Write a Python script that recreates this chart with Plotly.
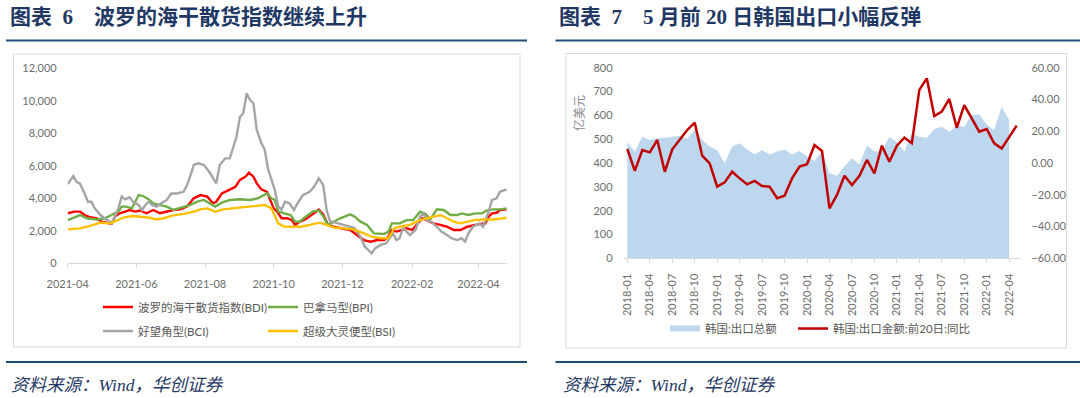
import pandas as pd
import plotly.graph_objects as go

W, H = 1080, 398

# ---------------- Left chart: Baltic dry indices (day offsets from 2021-04-01) ----------------
base_date = "2021-04-01"
axis_end_day = 390
left_ticks = ["2021-04-01", "2021-06-01", "2021-08-01", "2021-10-01", "2021-12-01", "2022-02-01", "2022-04-01"]

bdi_days = [0, 6, 11, 15, 20, 26, 30, 35, 39, 42, 46, 51, 55, 60, 64, 70, 76, 82, 88, 94,
            100, 106, 112, 118, 124, 129, 132, 137, 143, 149, 153, 158, 161, 165, 168, 172, 177, 180, 183, 186,
            190, 195, 199, 202, 206, 212, 218, 223, 227, 231, 236, 245, 251, 257, 263, 269, 275, 281, 285, 288,
            292, 297, 301, 306, 310, 315, 319, 325, 331, 337, 343, 349, 355, 361, 366, 371, 374, 377, 381, 384, 390]
bdi_vals = [3080, 3180, 3180, 2970, 2830, 2770, 2560, 2500, 2420, 2870, 3080, 3180, 3280, 3180, 3250, 3080, 3280, 3080, 3180, 3280,
            3320, 3490, 4000, 4200, 4100, 3690, 3790, 4300, 4500, 4700, 5130, 5330, 5580, 5330, 4920, 4550, 4400, 3900, 3380, 3180,
            2770, 2770, 2670, 2360, 2550, 2750, 3070, 3300, 3000, 2400, 2250, 2150, 2050, 1740, 1430, 1330, 1430, 1430, 1640, 2050,
            1950, 2050, 2150, 2050, 2360, 2770, 2660, 2460, 2360, 2250, 2050, 2050, 2250, 2360, 2420, 2460, 2870, 3070, 3110, 3280, 3320]

bci_days = [0, 5, 8, 11, 15, 18, 21, 24, 29, 33, 36, 39, 42, 45, 48, 51, 55, 58, 63, 66,
            69, 72, 75, 79, 83, 88, 92, 97, 103, 106, 109, 112, 116, 121, 126, 129, 132, 135, 140, 144,
            147, 150, 153, 156, 159, 162, 165, 168, 172, 175, 178, 181, 184, 187, 190, 193, 197, 201, 205, 209,
            215, 219, 223, 227, 230, 233, 239, 245, 251, 255, 260, 264, 267, 270, 273, 278, 283, 286, 289, 292,
            295, 298, 301, 304, 309, 313, 316, 319, 323, 328, 332, 337, 341, 346, 350, 353, 356, 360, 366, 369,
            374, 377, 381, 384, 388, 390]
bci_vals = [4880, 5370, 5000, 4900, 4300, 3790, 3790, 3380, 2970, 2770, 2660, 2460, 2870, 3380, 4100, 3930, 4060, 3790, 3590, 3280,
            3590, 3790, 3590, 3490, 3690, 3900, 4300, 4300, 4400, 4800, 5400, 6050, 6150, 6050, 5600, 5300, 4920, 6050, 6460, 6460,
            7080, 7800, 9000, 9230, 10460, 10050, 9850, 8200, 7400, 7000, 5800, 5200, 4500, 3500, 3300, 3790, 3690, 3280, 3790, 4200,
            4400, 4720, 5230, 4820, 3280, 2600, 2460, 2360, 2250, 2150, 1640, 1020, 820, 610, 920, 1130, 1230, 1540, 1840, 1430,
            1540, 2250, 1950, 1740, 2050, 2870, 3070, 2660, 2560, 2250, 1950, 1740, 1540, 1430, 1540, 1330, 1840, 2250, 2460, 2250,
            3180, 3900, 4000, 4400, 4510, 4510]

bpi_days = [0, 6, 11, 17, 26, 33, 39, 45, 48, 52, 57, 60, 63, 67, 72, 76, 82, 88, 94, 103,
            109, 115, 121, 126, 131, 137, 144, 153, 162, 169, 177, 181, 184, 187, 192, 198, 202, 206, 212, 218,
            223, 227, 231, 235, 242, 251, 255, 260, 266, 272, 281, 285, 288, 295, 301, 307, 313, 318, 322, 328,
            334, 340, 346, 350, 356, 362, 368, 372, 378, 384, 390]
bpi_vals = [2660, 2830, 2970, 2770, 2700, 2770, 2970, 3180, 3490, 3490, 3380, 3790, 4200, 4140, 3930, 3690, 3590, 3490, 3280, 3490,
            3590, 3790, 3900, 3690, 3490, 3730, 3900, 3940, 3900, 4000, 4300, 4000, 3900, 3180, 3080, 2970, 2560, 2560, 2900, 3200,
            3250, 2900, 2350, 2500, 2770, 3010, 2870, 2560, 2360, 1840, 1800, 1950, 2460, 2460, 2660, 2660, 3180, 3030, 2700, 3320,
            3280, 2970, 2970, 3070, 2970, 3070, 3070, 3240, 3320, 3320, 3380]

bsi_days = [0, 11, 20, 29, 38, 44, 50, 58, 64, 73, 79, 85, 94, 103, 112, 118, 124, 131, 138, 147,
            159, 168, 175, 181, 184, 187, 192, 200, 207, 215, 224, 230, 236, 245, 254, 263, 270, 278, 285, 290,
            295, 304, 313, 319, 325, 331, 337, 343, 349, 355, 361, 370, 378, 387, 390]
bsi_vals = [2090, 2150, 2300, 2500, 2460, 2660, 2830, 2910, 2870, 2800, 2700, 2770, 2950, 3040, 3180, 3320, 3380, 3180, 3320, 3380,
            3450, 3530, 3590, 3380, 2970, 2460, 2260, 2260, 2250, 2360, 2500, 2360, 2210, 2150, 2090, 1840, 1640, 1540, 1540, 2150,
            2250, 2360, 2660, 2770, 2870, 2970, 2770, 2560, 2460, 2560, 2660, 2700, 2700, 2770, 2810]

left_names = ["波罗的海干散货指数(BDI)", "巴拿马型(BPI)", "好望角型(BCI)", "超级大灵便型(BSI)"]
left_colors = ["#FF0000", "#70AD47", "#A5A5A5", "#FFC000"]

# ---------------- Right chart: Korea exports ----------------
months = [f"{y}-{m:02d}" for y in range(2018, 2023) for m in range(1, 13)][:53]   # 2018-01 .. 2022-05
export_total = [487, 448, 510, 497, 503, 506, 510, 513, 503, 538, 497, 469, 455, 399, 469, 483, 457, 436, 455, 436,
                448, 457, 436, 450, 427, 408, 448, 357, 347, 385, 420, 394, 473, 448, 448, 510, 487, 448, 524, 510,
                506, 543, 552, 531, 555, 552, 601, 604, 562, 538, 636, 580]          # 2018-01 .. 2022-04
export_yoy = [8.8, -5.0, 8.2, 6.7, 14.5, -5.5, 8.6, 14.5, 20.8, 25.4, 4.6, -0.2, -14.9, -12.2, -5.5, -9.7, -13.4, -11.3, -14.5, -14.9,
              -22.2, -20.6, -9.7, -2.3, -0.8, 11.3, 7.6, -28.5, -20.1, -8.0, -13.9, -8.0, 1.9, -6.5, 10.9, 0.8, 10.9, 16.0, 12.4, 46.0,
              53.3, 29.6, 32.3, 40.3, 22.2, 36.5, 28.1, 19.7, 21.4, 12.4, 9.2, 16.6, 23.5]   # 2018-01 .. 2022-05
right_tick_labels = months[0:52:3]
right_names = ["韩国:出口总额", "韩国:出口金额:前20日:同比"]

# ---------------- helpers ----------------
def px(x):
    return x / W

def py(y):
    return 1 - y / H

def to_dates(days):
    b = pd.Timestamp(base_date)
    return [(b + pd.Timedelta(days=d)).strftime("%Y-%m-%d") for d in days]

TICK_FONT = dict(family="Lato, 'Noto Sans CJK SC', sans-serif", size=11, color="#6e6e6e")
NAVY = "#1F3864"

fig = go.Figure()

left_series = [(bdi_days, bdi_vals), (bpi_days, bpi_vals), (bci_days, bci_vals), (bsi_days, bsi_vals)]
left_legends = ["legend", "legend", "legend2", "legend2"]
left_lw = [None, 150, None, 150]
for (d, v), name, col, lg, lw in zip(left_series, left_names, left_colors, left_legends, left_lw):
    fig.add_trace(go.Scatter(x=to_dates(d), y=v, name=name, mode="lines",
                             line=dict(color=col, width=2.4),
                             xaxis="x", yaxis="y", legend=lg, legendwidth=lw))

fig.add_trace(go.Scatter(x=months[:len(export_total)], y=export_total, name=right_names[0],
                         mode="none", fill="tozeroy", fillcolor="#BDD7EE",
                         xaxis="x2", yaxis="y2", legend="legend3"))
fig.add_trace(go.Scatter(x=months, y=export_yoy, name=right_names[1], mode="lines",
                         line=dict(color="#C00000", width=2.5),
                         xaxis="x2", yaxis="y3", legend="legend3", legendwidth=170))

end_date = (pd.Timestamp(base_date) + pd.Timedelta(days=axis_end_day)).strftime("%Y-%m-%d")

shapes = []
# title rules and bottom rules
for x0, x1 in [(6, 527), (555.5, 1080)]:
    shapes.append(dict(type="line", xref="paper", yref="paper", x0=px(x0), x1=px(x1), y0=py(40.5), y1=py(40.5),
                       line=dict(color="#1F4E79", width=2)))
    shapes.append(dict(type="line", xref="paper", yref="paper", x0=px(x0), x1=px(x1), y0=py(362), y1=py(362),
                       line=dict(color="#1F4E79", width=2)))
# chart frames
for x0, y0, x1, y1 in [(13.5, 54, 520, 347), (566, 53.5, 1066.5, 348)]:
    shapes.append(dict(type="rect", xref="paper", yref="paper", x0=px(x0), x1=px(x1), y0=py(y1), y1=py(y0),
                       line=dict(color="#D9D9D9", width=1), fillcolor="rgba(0,0,0,0)", layer="below"))

serif = "font-family:'Liberation Serif'"
sp = "\u2005"
annotations = [
    dict(text=f"<b>图表\u2002<span style=\"{serif}\">6</span>\u3000波罗的海干散货指数继续上升</b>",
         x=px(8), y=py(15), xanchor="left", yanchor="middle"),
    dict(text=(f"<b>图表\u2002<span style=\"{serif}\">7</span>\u3000<span style=\"{serif}\">5</span>{sp}月前{sp}"
               f"<span style=\"{serif}\">20</span>{sp}日韩国出口小幅反弹</b>"),
         x=px(557), y=py(15), xanchor="left", yanchor="middle"),
]
for a in annotations:
    a.update(xref="paper", yref="paper", showarrow=False, align="left",
             font=dict(family="'Noto Sans CJK SC', sans-serif", size=21, color=NAVY))
for xs in [8.5, 560.5]:
    annotations.append(dict(text=f"<i>资料来源：<span style=\"{serif}\">Wind</span>，华创证券</i>",
                            x=px(xs), y=py(383), xref="paper", yref="paper", xanchor="left", yanchor="middle",
                            align="left", showarrow=False,
                            font=dict(family="'Noto Sans CJK SC', sans-serif", size=17.5, color=NAVY)))
annotations.append(dict(text="亿美元", x=px(578), y=py(93), xref="paper", yref="paper", textangle=-90,
                        showarrow=False, font=dict(family="'Noto Sans CJK SC', sans-serif", size=12, color="#8c8c8c")))

legend_common = dict(orientation="h", xanchor="left", yanchor="middle", bgcolor="rgba(0,0,0,0)",
                     font=dict(family="Lato, 'Noto Sans CJK SC', sans-serif", size=11.5, color="#595959"),
                     entrywidthmode="pixels", itemwidth=30, tracegroupgap=0)

fig.update_layout(
    width=W, height=H, margin=dict(l=0, r=0, t=0, b=0, autoexpand=False),
    paper_bgcolor="white", plot_bgcolor="white",
    font=TICK_FONT,
    showlegend=True,
    xaxis=dict(domain=[px(67.7), px(506.7)], type="date", range=[base_date, end_date],
               tickvals=left_ticks, tickformat="%Y-%m", showgrid=False, zeroline=False, automargin=False,
               showline=True, linecolor="#D9D9D9", linewidth=1, ticks="outside", ticklen=4, tickcolor="#D9D9D9",
               ticklabelstandoff=6, tickfont=TICK_FONT, anchor="y"),
    yaxis=dict(domain=[py(263.3), py(68.3)], range=[0, 12000], dtick=2000, tickformat=",", automargin=False,
               showgrid=False, zeroline=False, showline=False, ticklabelstandoff=10, tickfont=TICK_FONT, anchor="x"),
    xaxis2=dict(domain=[px(623.6), px(1020.4)], type="category", categoryorder="array", categoryarray=months,
                range=[-0.5, len(months) - 0.5], tickvals=right_tick_labels, ticktext=right_tick_labels,
                tickangle=-90, showgrid=False, zeroline=False, showline=True, linecolor="#D9D9D9", linewidth=1,
                ticks="outside", ticklen=4, tickcolor="#D9D9D9", ticklabelstandoff=6, tickfont=TICK_FONT,
                anchor="y2", automargin=False),
    yaxis2=dict(domain=[py(258.3), py(67.7)], range=[0, 800], dtick=100, showgrid=False, zeroline=False,
                showline=False, ticklabelstandoff=10, tickfont=TICK_FONT, anchor="x2", automargin=False),
    yaxis3=dict(domain=[py(258.3), py(67.7)], range=[-60, 60], dtick=20, tickformat=".2f", overlaying="y2",
                side="right", showgrid=False, zeroline=False, showline=False, ticklabelstandoff=10,
                tickfont=TICK_FONT, anchor="x2", automargin=False),
    legend=dict(x=px(98), y=py(307), entrywidth=120, **legend_common),
    legend2=dict(x=px(98), y=py(331), entrywidth=120, **legend_common),
    legend3=dict(x=px(665), y=py(328.5), entrywidth=83, **legend_common),
    shapes=shapes, annotations=annotations,
)

fig.write_html("out.html", config={"displayModeBar": False},
               post_script="document.body.style.margin='0';document.body.style.overflow='hidden';")
